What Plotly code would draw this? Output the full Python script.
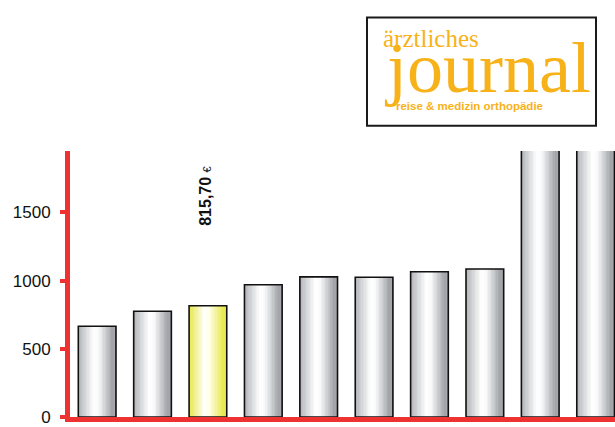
import plotly.graph_objects as go

# ---- data ----
categories = [0, 1, 2, 3, 4, 5, 6, 7, 8, 9]
values = [665, 775, 815.70, 970, 1027, 1025, 1065, 1085, 2600, 2600]
highlight_index = 2
highlight_label = "<b>815,70</b> <span style='font-size:11px'>€</span>"
y_ticks = [0, 500, 1000, 1500]
y_tick_labels = ["0", "500", "1000", "1500"]

RED = "#ee3131"
ORANGE = "#f8b219"

# ---- gradient helpers ----
def lerp(a, b, t):
    return a + (b - a) * t

def color_at(stops, t):
    for (t0, c0), (t1, c1) in zip(stops[:-1], stops[1:]):
        if t0 <= t <= t1:
            u = 0 if t1 == t0 else (t - t0) / (t1 - t0)
            r, g, b = (int(round(lerp(c0[k], c1[k], u))) for k in range(3))
            return f"rgb({r},{g},{b})"
    c = stops[-1][1]
    return f"rgb({c[0]},{c[1]},{c[2]})"

gray_stops = [(0.0, (176, 178, 182)), (0.42, (255, 255, 255)), (0.55, (250, 250, 251)),
              (0.92, (160, 162, 167)), (1.0, (168, 170, 175))]
yellow_stops = [(0.0, (230, 230, 70)), (0.42, (255, 255, 255)), (0.55, (255, 255, 230)),
                (0.92, (232, 232, 80)), (1.0, (236, 236, 95))]

BAR_W = 0.68
N = 28
slice_w = BAR_W / N

fig = go.Figure()
for i in range(N):
    t = (i + 0.5) / N
    cols = [color_at(yellow_stops if k == highlight_index else gray_stops, t)
            for k in range(len(categories))]
    fig.add_trace(go.Bar(
        x=categories, y=values,
        width=[slice_w * 1.3] * len(categories),
        offset=[-BAR_W / 2 + i * slice_w] * len(categories),
        marker=dict(color=cols, line=dict(width=0)),
        hoverinfo="skip", showlegend=False,
    ))
# outline
fig.add_trace(go.Bar(
    x=categories, y=values,
    width=[BAR_W] * len(categories),
    offset=[-BAR_W / 2] * len(categories),
    marker=dict(color="rgba(0,0,0,0)", line=dict(color="#111111", width=1.6)),
    hoverinfo="skip", showlegend=False,
))

# plot-area geometry in px (for the logo placement in paper coords)
L, R, T, B = 70, 615, 151, 424
def px(xp):
    return (xp - L) / (R - L)
def py(yp):
    return (B - yp) / (B - T)

fig.update_layout(
    width=615, height=427,
    margin=dict(l=L, r=615 - R, t=T, b=427 - B),
    paper_bgcolor="white", plot_bgcolor="white",
    barmode="overlay",
    xaxis=dict(range=[-0.49, 9.35], showticklabels=False, ticks="",
               showgrid=False, zeroline=False, showline=True,
               linecolor=RED, linewidth=5),
    yaxis=dict(range=[0, 1950], tickvals=y_ticks, ticktext=y_tick_labels,
               showgrid=False, zeroline=False, showline=True,
               linecolor=RED, linewidth=5, ticks="outside", ticklen=5,
               tickwidth=4, tickcolor=RED, ticklabelstandoff=6,
               ticklabeloverflow="allow",
               tickfont=dict(family="Liberation Sans", size=17, color="#111111")),
    font=dict(family="Liberation Sans"),
    shapes=[dict(type="rect", xref="paper", yref="paper",
                 x0=px(367), x1=px(596), y0=py(125), y1=py(14),
                 line=dict(color="#1a1a1a", width=2), fillcolor="white", layer="above")],
    annotations=[
        dict(x=categories[highlight_index], y=1621, xref="x", yref="y",
             text=highlight_label, textangle=-90, showarrow=False, xshift=-2,
             font=dict(family="Liberation Sans", size=16, color="#111111")),
        dict(x=px(381), y=py(36), xref="paper", yref="paper", xanchor="left", yanchor="middle",
             text="ärztliches", showarrow=False,
             font=dict(family="Liberation Serif", size=25, color=ORANGE)),
        dict(x=px(382), y=py(66), xref="paper", yref="paper", xanchor="left", yanchor="middle",
             text="journal", showarrow=False,
             font=dict(family="Liberation Serif", size=72, color=ORANGE)),
        dict(x=px(394), y=py(105), xref="paper", yref="paper", xanchor="left", yanchor="middle",
             text="<b>reise &amp; medizin orthopädie</b>", showarrow=False,
             font=dict(family="Liberation Sans", size=11.5, color=ORANGE)),
    ],
)

fig.write_html("out.html", config={"displayModeBar": False},
               post_script="document.body.style.margin='0';document.body.style.padding='0';")
